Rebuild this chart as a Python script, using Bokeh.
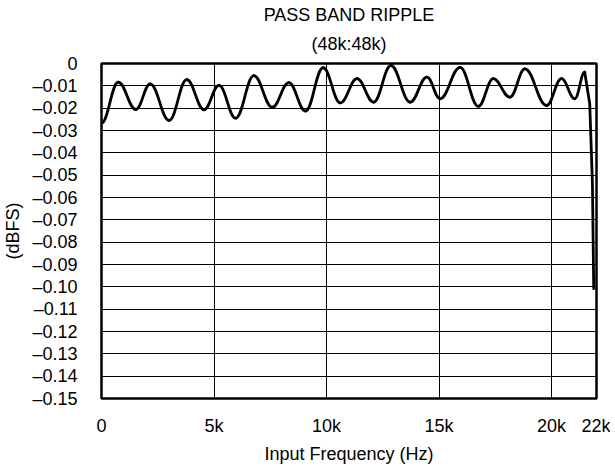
import numpy as np
from bokeh.plotting import figure
from bokeh.models import Range1d, FixedTicker, Title
from bokeh.embed import file_html
from bokeh.resources import INLINE

# ---- data ----
ripple_freq_hz = [0, 745, 1529, 2163, 3006, 3790, 4557, 5222, 5962, 6774,
                  7590, 8326, 9066, 9850, 10617, 11357, 12093, 12865, 13720, 14461,
                  15050, 15937, 16748, 17413, 18153, 18818, 19780, 20445, 21034, 21477]
ripple_dbfs = [-0.0267, -0.0084, -0.0206, -0.0091, -0.0255, -0.0072, -0.0207, -0.0098, -0.0245, -0.0054,
               -0.0196, -0.0086, -0.0213, -0.0019, -0.0176, -0.0068, -0.0173, -0.0009, -0.0173, -0.0061,
               -0.0158, -0.0017, -0.0192, -0.0068, -0.0151, -0.0024, -0.0188, -0.0068, -0.0158, -0.0039]
rolloff_freq_hz = [21477, 21699, 21819, 21877]
rolloff_dbfs = [-0.0039, -0.0180, -0.0538, -0.1008]

x_ticks = [0, 5000, 10000, 15000, 20000, 22000]
x_tick_labels = ["0", "5k", "10k", "15k", "20k", "22k"]
y_ticks = [0.0, -0.01, -0.02, -0.03, -0.04, -0.05, -0.06, -0.07, -0.08,
           -0.09, -0.1, -0.11, -0.12, -0.13, -0.14, -0.15]
y_tick_labels = ["0", "–0.01", "–0.02", "–0.03", "–0.04", "–0.05", "–0.06", "–0.07", "–0.08",
                 "–0.09", "–0.10", "–0.11", "–0.12", "–0.13", "–0.14", "–0.15"]

title_text = "PASS BAND RIPPLE"
subtitle_text = "(48k:48k)"
x_label = "Input Frequency (Hz)"
y_label = "(dBFS)"

FONT = "Liberation Sans"
FS = "18px"

p = figure(frame_width=495, frame_height=335,
           x_range=Range1d(0, 22000), y_range=Range1d(-0.15, 0),
           output_backend="svg", toolbar_location=None, title=None,
           min_border_left=93, min_border_right=14, min_border_top=63, min_border_bottom=56,
           background_fill_color="white", border_fill_color="white",
           outline_line_color="black", outline_line_width=2.5)

# titles (added nearest-first)
p.add_layout(Title(text=subtitle_text, align="center", vertical_align="top",
                   text_font=FONT, text_font_size=FS,
                   text_font_style="normal", text_color="black", standoff=15), "above")
p.add_layout(Title(text=title_text, align="center", vertical_align="top",
                   text_font=FONT, text_font_size=FS,
                   text_font_style="normal", text_color="black", standoff=0), "above")

# axes
for ax in (p.xaxis[0], p.yaxis[0]):
    ax.axis_line_color = None
    ax.major_tick_line_color = None
    ax.minor_tick_line_color = None
    ax.major_label_text_font = FONT
    ax.major_label_text_font_size = FS
    ax.major_label_text_color = "black"
    ax.axis_label_text_font = FONT
    ax.axis_label_text_font_size = FS
    ax.axis_label_text_font_style = "normal"
    ax.axis_label_text_color = "black"

p.xaxis.ticker = FixedTicker(ticks=x_ticks)
p.xaxis.major_label_overrides = dict(zip(x_ticks, x_tick_labels))
p.xaxis.axis_label = x_label
p.xaxis.major_label_standoff = 11
p.xaxis.axis_label_standoff = 5

p.yaxis.ticker = FixedTicker(ticks=y_ticks)
p.yaxis.major_label_overrides = dict(zip(y_ticks, y_tick_labels))
p.yaxis.axis_label = y_label
p.yaxis.major_label_standoff = 18
p.yaxis.axis_label_standoff = 6

p.xgrid.ticker = FixedTicker(ticks=x_ticks)
p.ygrid.ticker = FixedTicker(ticks=y_ticks)
for g in (p.xgrid[0], p.ygrid[0]):
    g.grid_line_color = "black"
    g.grid_line_alpha = 1.0
    g.grid_line_width = 1

# ripple drawn as smooth segments between the read extrema (horizontal tangents)
f = np.array(ripple_freq_hz, dtype=float)
v = np.array(ripple_dbfs, dtype=float)
x0, x1 = f[:-1], f[1:]
y0, y1 = v[:-1], v[1:]
d = x1 - x0
p.bezier(x0=x0, y0=y0, x1=x1, y1=y1,
         cx0=x0 + 0.4 * d, cy0=y0, cx1=x1 - 0.4 * d, cy1=y1,
         line_color="black", line_width=2.8, line_cap="round")

# roll-off at the band edge
p.line(rolloff_freq_hz, rolloff_dbfs, line_color="black", line_width=2.8,
       line_join="round", line_cap="round")

open("out.html", "w").write(file_html(p, INLINE))
